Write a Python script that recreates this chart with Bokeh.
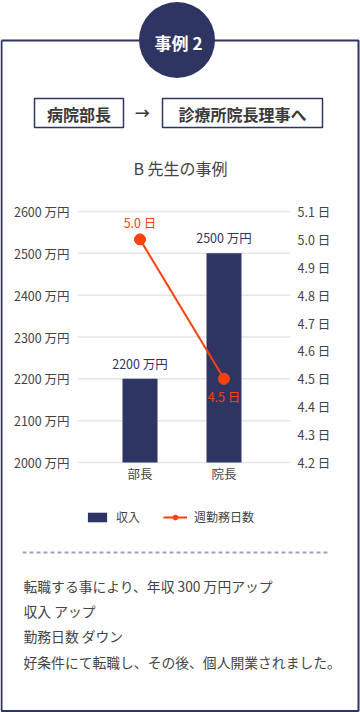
from bokeh.plotting import figure
from bokeh.models import (Range1d, LinearAxis, FixedTicker,
                          PrintfTickFormatter, Legend, LegendItem, ColumnDataSource)
from bokeh.core.properties import value
from bokeh.embed import file_html
from bokeh.resources import INLINE

# ---------------- data ----------------
categories = ["部長", "院長"]
income = [2200, 2500]                  # 万円
workdays = [5.0, 4.5]                  # 日 / 週
income_ticks = [2000, 2100, 2200, 2300, 2400, 2500, 2600]
day_ticks = [4.2, 4.3, 4.4, 4.5, 4.6, 4.7, 4.8, 4.9, 5.0, 5.1]
case_label = "事例 2"
from_label = "病院部長"
to_label = "診療所院長理事へ"
chart_title = "B 先生の事例"
series_names = ["収入", "週勤務日数"]
notes = ["転職する事により、年収 300 万円アップ",
         "収入 アップ",
         "勤務日数 ダウン",
         "好条件にて転職し、その後、個人開業されました。"]

# ---------------- style / layout ----------------
W, H = 360, 712
NAVY = "#2f3563"
ORANGE = "#fb410c"
TEXT = "#444444"
FONT = "Noto Sans CJK JP"

# pixel anchors of the chart area (canvas coordinates, y downward)
PX_LEFT, PX_RIGHT = 77, 290
PX_BOTTOM, PX_TOP = 462, 211
CAT0_PX, CAT_PITCH = 139.5, 84.0

def span_range(v_bottom, v_top):
    per_px = (v_top - v_bottom) / (PX_BOTTOM - PX_TOP)
    return Range1d(start=v_bottom - (H - PX_BOTTOM) * per_px, end=v_top + PX_TOP * per_px)

p = figure(width=W, height=H, output_backend="svg", toolbar_location=None,
           x_range=Range1d(0, W), y_range=Range1d(H, 0),
           x_axis_location=None, y_axis_location=None, min_border=0,
           background_fill_color="white", border_fill_color="white",
           outline_line_color=None)
p.xgrid.visible = False
p.ygrid.visible = False

# chart ranges mapped onto the pixel frame
cat_x = [i + 0.5 for i in range(len(categories))]
cat_start = 0.5 - CAT0_PX / CAT_PITCH
p.extra_y_ranges = {
    "income": span_range(income_ticks[0], income_ticks[-1]),
    "days": span_range(day_ticks[0], day_ticks[-1]),
}
p.extra_x_ranges = {"cat": Range1d(cat_start, cat_start + W / CAT_PITCH)}

# ---------------- frame & header ----------------
p.line(x=[1, 1, 358, 358, 1], y=[40, 710.5, 710.5, 40, 40], line_color=NAVY, line_width=2)
p.circle(x=[176.5], y=[39.5], radius=38, fill_color=NAVY, line_color=None)
p.text(x=[178], y=[42], text=[case_label], text_color="white", text_font=value(FONT),
       text_font_style="bold", text_font_size="17px", text_align="center", text_baseline="middle")

p.quad(left=[34, 162], right=[123, 322], top=[98, 98], bottom=[127, 127],
       fill_color="white", line_color=NAVY, line_width=1.5)
p.text(x=[78.5, 242], y=[113, 113], text=[from_label, to_label], text_color="#3a3a3a",
       text_font=value(FONT), text_font_style="bold", text_font_size="16px",
       text_align="center", text_baseline="middle")
p.text(x=[142], y=[112], text=["→"], text_color="#3a3a3a", text_font=value(FONT),
       text_font_style="bold", text_font_size="15px", text_align="center", text_baseline="middle")

p.text(x=[180], y=[167], text=[chart_title], text_color=TEXT, text_font=value(FONT),
       text_font_size="16px", text_align="center", text_baseline="middle")

# ---------------- chart ----------------
p.segment(x0=[PX_LEFT] * len(income_ticks), x1=[PX_RIGHT] * len(income_ticks),
          y0=income_ticks, y1=income_ticks, y_range_name="income",
          line_color="#e6e6e6", line_width=1.5)

bsrc = ColumnDataSource(dict(x=cat_x, income=income,
                             lab=[f"{v} 万円" for v in income]))
bars = p.vbar(x="x", top="income", bottom=income_ticks[0], width=0.417, source=bsrc,
              x_range_name="cat", y_range_name="income", fill_color=NAVY, line_color=None)
p.text(x="x", y="income", text="lab", source=bsrc, x_range_name="cat", y_range_name="income",
       text_color=NAVY, text_font=value(FONT), text_font_size="12.5px",
       text_align="center", text_baseline="bottom", y_offset=-6)

dsrc = ColumnDataSource(dict(x=cat_x, days=workdays,
                             lab=[f"{v:.1f} 日" for v in workdays]))
ln = p.line(x="x", y="days", source=dsrc, x_range_name="cat", y_range_name="days",
            line_color=ORANGE, line_width=2)
pts = p.scatter(x="x", y="days", source=dsrc, x_range_name="cat", y_range_name="days",
                size=11, fill_color=ORANGE, line_color=ORANGE)
p.text(x=cat_x[:1], y=workdays[:1], text=dsrc.data["lab"][:1],
       x_range_name="cat", y_range_name="days", text_color=ORANGE, text_font=value(FONT),
       text_font_size="12.5px", text_align="center", text_baseline="bottom", y_offset=-7)
p.text(x=cat_x[1:], y=workdays[1:], text=dsrc.data["lab"][1:],
       x_range_name="cat", y_range_name="days", text_color=ORANGE, text_font=value(FONT),
       text_font_size="12.5px", text_align="center", text_baseline="top", y_offset=8)

def style_axis(ax, standoff):
    ax.axis_line_color = None
    ax.major_tick_line_color = None
    ax.minor_tick_line_color = None
    ax.major_tick_out = 0
    ax.major_tick_in = 0
    ax.minor_tick_out = 0
    ax.minor_tick_in = 0
    ax.major_label_standoff = standoff
    ax.major_label_text_color = TEXT
    ax.major_label_text_font = FONT
    ax.major_label_text_font_size = "12.5px"

ax_l = LinearAxis(y_range_name="income", fixed_location=PX_LEFT,
                  ticker=FixedTicker(ticks=income_ticks),
                  formatter=PrintfTickFormatter(format="%d 万円"))
style_axis(ax_l, 8)
p.add_layout(ax_l, "left")

ax_r = LinearAxis(y_range_name="days", fixed_location=PX_RIGHT,
                  ticker=FixedTicker(ticks=day_ticks),
                  formatter=PrintfTickFormatter(format="%.1f 日"))
style_axis(ax_r, 7)
p.add_layout(ax_r, "right")

ax_b = LinearAxis(x_range_name="cat", fixed_location=PX_BOTTOM,
                  ticker=FixedTicker(ticks=cat_x),
                  major_label_overrides={x: c for x, c in zip(cat_x, categories)})
style_axis(ax_b, 1)
p.add_layout(ax_b, "below")

legend = Legend(items=[LegendItem(label=series_names[0], renderers=[bars]),
                       LegendItem(label=series_names[1], renderers=[ln, pts])],
                orientation="horizontal", location=(85, 187),
                padding=0, margin=0, spacing=23, label_standoff=7,
                glyph_width=24, glyph_height=12, label_height=14,
                border_line_color=None, background_fill_alpha=0,
                label_text_font=FONT, label_text_font_size="12px", label_text_color=TEXT)
p.add_layout(legend, "center")

# ---------------- footer ----------------
p.line(x=[22, 330], y=[552, 552], line_color="#a0a3bd", line_width=2, line_dash="4 3")
p.text(x=[23] * len(notes), y=[585, 610, 635, 661], text=notes, text_color=TEXT,
       text_font=value(FONT), text_font_size="13.8px", text_align="left", text_baseline="middle")

open("out.html", "w").write(file_html(p, INLINE))
